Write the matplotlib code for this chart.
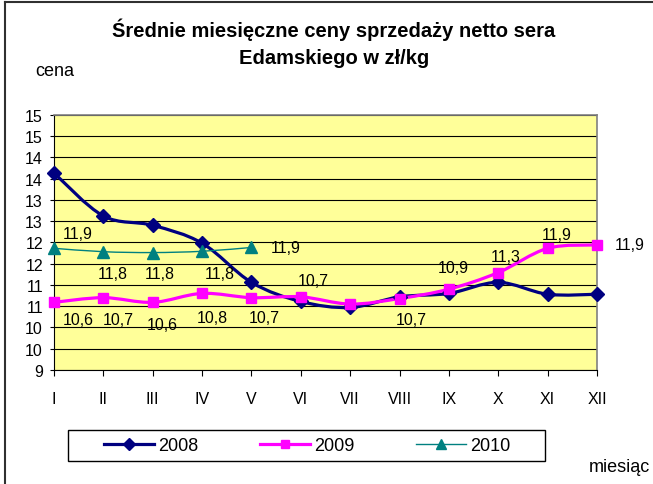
import numpy as np
import matplotlib
matplotlib.use("Agg")
import matplotlib.pyplot as plt
from matplotlib.path import Path
from matplotlib.patches import PathPatch, Rectangle
from matplotlib.lines import Line2D

plt.rcParams["font.family"] = ["Liberation Sans", "DejaVu Sans"]

# ---------------------------------------------------------------------------
# Data
# ---------------------------------------------------------------------------
months = ["I", "II", "III", "IV", "V", "VI", "VII", "VIII", "IX", "X", "XI", "XII"]
price_2008 = [13.63, 12.62, 12.40, 11.98, 11.06, 10.61, 10.47, 10.72, 10.80, 11.06, 10.78, 10.78]
price_2009 = [10.59, 10.70, 10.59, 10.80, 10.70, 10.72, 10.55, 10.68, 10.90, 11.29, 11.86, 11.94]
price_2010 = [11.86, 11.78, 11.76, 11.79, 11.88]
y_ticks = np.arange(9, 15.01, 0.5)

# label offsets in pixels (None = no label)
offsets_2009 = [(24, -17), (15, -22), (10, -22), (10, -24), (13, -20), (12, 16),
                None, (12, -21), (4, 22), (7, 16), (9, 14), (33, 0)]
offsets_2010 = [(24, 15), (9, -22), (7, -21), (18, -22), (34, 0)]


def smooth_path(xs, ys):
    """Excel-like smoothed line: Catmull-Rom converted to cubic Bezier."""
    pts = np.column_stack([xs, ys]).astype(float)
    n = len(pts)
    verts = [pts[0]]
    codes = [Path.MOVETO]
    for i in range(n - 1):
        p0 = pts[i - 1] if i > 0 else pts[i]
        p1, p2 = pts[i], pts[i + 1]
        p3 = pts[i + 2] if i + 2 < n else pts[i + 1]
        c1 = p1 + (p2 - p0) / 6
        c2 = p2 - (p3 - p1) / 6
        verts += [c1, c2, p2]
        codes += [Path.CURVE4] * 3
    return Path(verts, codes)


def fmt(v):
    return f"{v:.1f}".replace(".", ",")


fig = plt.figure(figsize=(6.53, 4.85), dpi=100)
ax = fig.add_axes([54 / 653, 1 - 371 / 485, 543 / 653, 255.3 / 485])
ax.set_facecolor("#FFFF99")

x = np.arange(len(months))

series = [
    (price_2008, "#000080", "D", 7, 2.3, "2008"),
    (price_2009, "#FF00FF", "s", 7, 2.3, "2009"),
    (price_2010, "#008080", "^", 8, 1.0, "2010"),
]
handles = []
for vals, color, marker, ms, lw, name in series:
    xs = x[:len(vals)]
    ax.add_patch(PathPatch(smooth_path(xs, vals), fc="none", ec=color, lw=lw,
                           zorder=3, capstyle="round", joinstyle="round"))
    ax.plot(xs, vals, ls="none", marker=marker, ms=ms, color=color, zorder=4,
            clip_on=False)
    handles.append(Line2D([], [], color=color, lw=lw, marker=marker, ms=ms - 1, label=name))

for vals, offs in [(price_2009, offsets_2009), (price_2010, offsets_2010)]:
    for xi, v, off in zip(x, vals, offs):
        if off is None:
            continue
        ax.annotate(fmt(v), (xi, v), xytext=off, textcoords="offset pixels",
                    ha="center", va="center", fontsize=11.5, zorder=5,
                    annotation_clip=False)

ax.set_xlim(0, 11)
ax.set_ylim(9, 15)
ax.set_yticks(y_ticks)
ax.set_yticklabels([str(int(np.floor(v + 0.5))) for v in y_ticks])
ax.set_xticks(x)
ax.set_xticklabels(months)
ax.yaxis.grid(True, color="black", lw=0.8)
ax.set_axisbelow(True)
ax.tick_params(axis="y", direction="out", length=3, width=0.8, pad=5, labelsize=11.5)
ax.tick_params(axis="x", direction="out", length=4, width=0.8, pad=11, labelsize=11.5)

for side in ["top", "right"]:
    ax.spines[side].set_color("#808080")
    ax.spines[side].set_linewidth(1.2)
for side in ["left", "bottom"]:
    ax.spines[side].set_color("black")
    ax.spines[side].set_linewidth(0.8)

fig.text(334 / 653, 1 - 30 / 485, "Średnie miesięczne ceny sprzedaży netto sera",
         ha="center", va="center", fontsize=14.5, fontweight="bold")
fig.text(334 / 653, 1 - 58 / 485, "Edamskiego w zł/kg",
         ha="center", va="center", fontsize=14.5, fontweight="bold")
fig.text(35 / 653, 1 - 72 / 485, "cena", ha="left", va="center", fontsize=13)
fig.text(589 / 653, 1 - 468 / 485, "miesiąc", ha="left", va="center", fontsize=13)

fig.legend(handles=handles, loc="center", ncol=3,
           bbox_to_anchor=(307 / 653, 1 - 446.5 / 485),
           frameon=False, fontsize=13, handlelength=2.8, handletextpad=0.2,
           columnspacing=3.4, borderpad=0.2)
fig.add_artist(Rectangle((68 / 653, 1 - 462 / 485), 477 / 653, 31 / 485,
                         transform=fig.transFigure, fill=False, ec="black", lw=1.0))

# chart-area border (only top and left visible in the reference)
fig.add_artist(Line2D([5 / 653, 5 / 653], [0, 1 - 3 / 485], color="#303030",
                      lw=1.5, transform=fig.transFigure))
fig.add_artist(Line2D([5 / 653, 1], [1 - 3 / 485, 1 - 3 / 485], color="#303030",
                      lw=1.5, transform=fig.transFigure))

fig.savefig("out.png", dpi=100)
